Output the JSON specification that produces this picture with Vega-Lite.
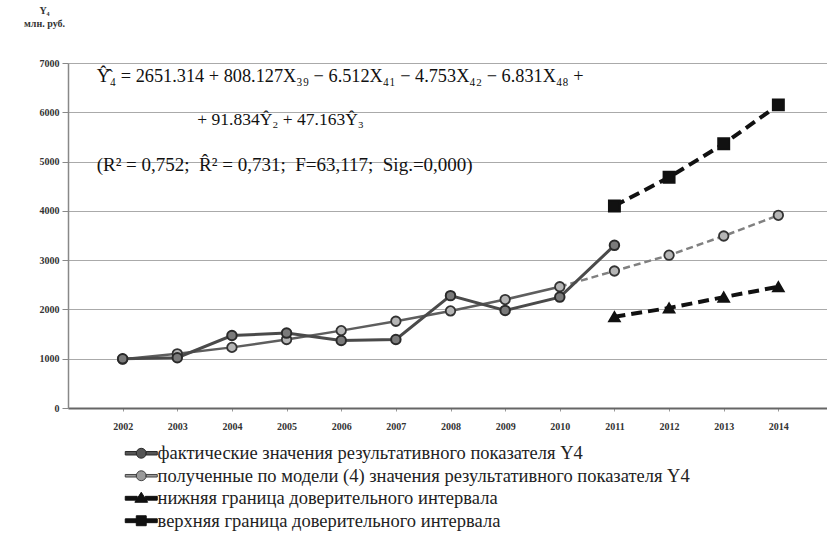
{
  "$schema": "https://vega.github.io/schema/vega-lite/v6.json",
  "width": 765,
  "height": 345,
  "autosize": {"type": "none"},
  "padding": {"left": 68, "top": 63, "right": 0, "bottom": 127},
  "background": "white",
  "config": {
    "view": {"stroke": null},
    "font": "Liberation Serif"
  },
  "datasets": {
    "main": [
      {"series": "actual", "year": 2002, "value": 1000},
      {"series": "actual", "year": 2003, "value": 1020},
      {"series": "actual", "year": 2004, "value": 1470},
      {"series": "actual", "year": 2005, "value": 1520},
      {"series": "actual", "year": 2006, "value": 1370},
      {"series": "actual", "year": 2007, "value": 1390},
      {"series": "actual", "year": 2008, "value": 2280},
      {"series": "actual", "year": 2009, "value": 1980},
      {"series": "actual", "year": 2010, "value": 2250},
      {"series": "actual", "year": 2011, "value": 3300},
      {"series": "model", "year": 2002, "value": 990},
      {"series": "model", "year": 2003, "value": 1100},
      {"series": "model", "year": 2004, "value": 1230},
      {"series": "model", "year": 2005, "value": 1390},
      {"series": "model", "year": 2006, "value": 1570},
      {"series": "model", "year": 2007, "value": 1760},
      {"series": "model", "year": 2008, "value": 1970},
      {"series": "model", "year": 2009, "value": 2200},
      {"series": "model", "year": 2010, "value": 2460},
      {"series": "model", "year": 2011, "value": 2780},
      {"series": "model", "year": 2012, "value": 3100},
      {"series": "model", "year": 2013, "value": 3490},
      {"series": "model", "year": 2014, "value": 3910},
      {"series": "lower", "year": 2011, "value": 1850},
      {"series": "lower", "year": 2012, "value": 2030},
      {"series": "lower", "year": 2013, "value": 2250},
      {"series": "lower", "year": 2014, "value": 2460},
      {"series": "upper", "year": 2011, "value": 4100},
      {"series": "upper", "year": 2012, "value": 4680},
      {"series": "upper", "year": 2013, "value": 5360},
      {"series": "upper", "year": 2014, "value": 6150}
    ],
    "notes": [
      {"row": 1, "year": 2002, "value": 6716, "label": "Ŷ̂₄ = 2651.314 + 808.127X₃₉ − 6.512X₄₁ − 4.753X₄₂ − 6.831X₄₈ +"},
      {"row": 2, "year": 2003, "value": 5843, "label": "+ 91.834Ŷ₂ + 47.163Ŷ₃"},
      {"row": 3, "year": 2002, "value": 4930, "label": "(R² = 0,752;\u2002R̂² = 0,731;\u2002F=63,117;\u2002Sig.=0,000)"}
    ]
  },
  "encoding": {
    "x": {
      "field": "year", "type": "ordinal",
      "scale": {"type": "point", "padding": 1, "domain": [2002,2003,2004,2005,2006,2007,2008,2009,2010,2011,2012,2013,2014]},
      "axis": {
        "title": null, "labelAngle": 0, "labelFont": "Liberation Serif", "labelFontWeight": "bold",
        "labelFontSize": 10, "labelColor": "#333", "labelPadding": 10, "tickSize": 3, "tickColor": "#999",
        "domainColor": "#666", "domainWidth": 2, "grid": false
      }
    },
    "y": {
      "field": "value", "type": "quantitative",
      "scale": {"domain": [0, 7000], "nice": false},
      "axis": {
        "values": [0,1000,2000,3000,4000,5000,6000,7000], "format": "d",
        "title": ["Y₄", "млн. руб."], "titleAngle": 0, "titleAlign": "center", "titleBaseline": "top",
        "titleX": -24, "titleY": -58, "titleFont": "Liberation Serif", "titleFontWeight": "bold",
        "titleFontSize": 10, "titleColor": "#333", "titleLineHeight": 13,
        "labelFont": "Liberation Serif", "labelFontWeight": "bold", "labelFontSize": 10, "labelColor": "#333",
        "labelPadding": 3, "tickSize": 6, "tickColor": "#888", "domainColor": "#888", "domainWidth": 1.5,
        "gridColor": "#aaa", "gridWidth": 1
      }
    }
  },
  "layer": [
    {
      "data": {"name": "main"},
      "transform": [{"filter": "datum.series == 'model' && datum.year <= 2010"}],
      "mark": {"type": "line", "color": "#5e5e5e", "strokeWidth": 2.5}
    },
    {
      "data": {"name": "main"},
      "transform": [{"filter": "datum.series == 'model' && datum.year >= 2010"}],
      "mark": {"type": "line", "color": "#808080", "strokeWidth": 2.5, "strokeDash": [7, 4]}
    },
    {
      "data": {"name": "main"},
      "transform": [{"filter": "datum.series == 'actual'"}],
      "mark": {"type": "line", "color": "#4a4a4a", "strokeWidth": 3}
    },
    {
      "data": {"name": "main"},
      "transform": [{"filter": "datum.series == 'lower'"}],
      "mark": {"type": "line", "color": "#111", "strokeWidth": 4, "strokeDash": [11, 6]}
    },
    {
      "data": {"name": "main"},
      "transform": [{"filter": "datum.series == 'upper'"}],
      "mark": {"type": "line", "color": "#111", "strokeWidth": 4, "strokeDash": [11, 6]}
    },
    {
      "data": {"name": "main"},
      "transform": [{"filter": "datum.series == 'model'"}],
      "mark": {"type": "point", "shape": "circle", "filled": true, "fill": "#b5b5b5", "stroke": "#333", "strokeWidth": 1.8, "size": 90, "opacity": 1}
    },
    {
      "data": {"name": "main"},
      "transform": [{"filter": "datum.series == 'actual'"}],
      "mark": {"type": "point", "shape": "circle", "filled": true, "fill": "#7a7a7a", "stroke": "#2a2a2a", "strokeWidth": 2, "size": 90, "opacity": 1}
    },
    {
      "data": {"name": "main"},
      "transform": [{"filter": "datum.series == 'lower'"}],
      "mark": {"type": "point", "shape": "triangle-up", "filled": true, "fill": "#111", "stroke": "#111", "size": 110, "opacity": 1}
    },
    {
      "data": {"name": "main"},
      "transform": [{"filter": "datum.series == 'upper'"}],
      "mark": {"type": "point", "shape": "square", "filled": true, "fill": "#111", "stroke": "#111", "size": 120, "opacity": 1}
    },
    {
      "data": {"name": "main"},
      "transform": [{"filter": "datum.value < 0"}],
      "mark": {"type": "point", "filled": true, "strokeWidth": 1, "opacity": 1},
      "encoding": {
        "shape": {
          "field": "series", "type": "nominal",
          "scale": {
            "domain": ["actual", "model", "lower", "upper"],
            "range": [
              "M-2,-0.22H-0.6V0.22H-2Z M0.6,-0.22H2V0.22H0.6Z M0.62,0A0.62,0.62 0 1 0 -0.62,0A0.62,0.62 0 1 0 0.62,0Z",
              "M-2,-0.16H-0.6V0.16H-2Z M0.6,-0.16H2V0.16H0.6Z M0.62,0A0.62,0.62 0 1 0 -0.62,0A0.62,0.62 0 1 0 0.62,0Z",
              "M-2,-0.24H-0.5V0.24H-2Z M0.5,-0.24H2V0.24H0.5Z M0,-0.75L0.8,0.5L-0.8,0.5Z",
              "M-2,-0.24H-0.6V0.24H-2Z M0.6,-0.24H2V0.24H0.6Z M-0.62,-0.62H0.62V0.62H-0.62Z"
            ]
          },
          "legend": {
            "title": null, "orient": "none", "legendX": 64, "legendY": 381, "padding": 0,
            "symbolSize": 256, "rowPadding": 3.5, "labelOffset": 7, "labelFont": "Liberation Serif",
            "labelFontSize": 18.5, "labelColor": "#222", "labelLimit": 800, "symbolStrokeWidth": 1, "symbolOpacity": 1,
            "labelExpr": "datum.label == 'actual' ? 'фактические значения результативного показателя Y4' : datum.label == 'model' ? 'полученные по модели (4) значения результативного показателя Y4' : datum.label == 'lower' ? 'нижняя граница доверительного интервала' : 'верхняя граница доверительного интервала'"
          }
        },
        "fill": {
          "field": "series", "type": "nominal",
          "scale": {"domain": ["actual", "model", "lower", "upper"], "range": ["#555", "#9a9a9a", "#111", "#111"]},
          "legend": {
            "title": null, "orient": "none", "legendX": 64, "legendY": 381, "padding": 0,
            "symbolSize": 256, "rowPadding": 3.5, "labelOffset": 7, "labelFont": "Liberation Serif",
            "labelFontSize": 18.5, "labelColor": "#222", "labelLimit": 800, "symbolStrokeWidth": 1, "symbolOpacity": 1,
            "labelExpr": "datum.label == 'actual' ? 'фактические значения результативного показателя Y4' : datum.label == 'model' ? 'полученные по модели (4) значения результативного показателя Y4' : datum.label == 'lower' ? 'нижняя граница доверительного интервала' : 'верхняя граница доверительного интервала'"
          }
        },
        "stroke": {
          "field": "series", "type": "nominal",
          "scale": {"domain": ["actual", "model", "lower", "upper"], "range": ["#2a2a2a", "#444", "#111", "#111"]},
          "legend": {
            "title": null, "orient": "none", "legendX": 64, "legendY": 381, "padding": 0,
            "symbolSize": 256, "rowPadding": 3.5, "labelOffset": 7, "labelFont": "Liberation Serif",
            "labelFontSize": 18.5, "labelColor": "#222", "labelLimit": 800, "symbolStrokeWidth": 1, "symbolOpacity": 1,
            "labelExpr": "datum.label == 'actual' ? 'фактические значения результативного показателя Y4' : datum.label == 'model' ? 'полученные по модели (4) значения результативного показателя Y4' : datum.label == 'lower' ? 'нижняя граница доверительного интервала' : 'верхняя граница доверительного интервала'"
          }
        }
      }
    },
    {
      "data": {"name": "notes"},
      "transform": [{"filter": "datum.row == 1"}],
      "mark": {"type": "text", "align": "left", "baseline": "middle", "dx": -26, "font": "Liberation Serif", "fontSize": 18.3, "color": "#111"},
      "encoding": {"text": {"field": "label"}}
    },
    {
      "data": {"name": "notes"},
      "transform": [{"filter": "datum.row == 3"}],
      "mark": {"type": "text", "align": "left", "baseline": "middle", "dx": -26, "font": "Liberation Serif", "fontSize": 19, "color": "#111"},
      "encoding": {"text": {"field": "label"}}
    },
    {
      "data": {"name": "notes"},
      "transform": [{"filter": "datum.row == 2"}],
      "mark": {"type": "text", "align": "left", "baseline": "middle", "dx": 20, "font": "Liberation Serif", "fontSize": 17.5, "color": "#111"},
      "encoding": {"text": {"field": "label"}}
    }
  ]
}
